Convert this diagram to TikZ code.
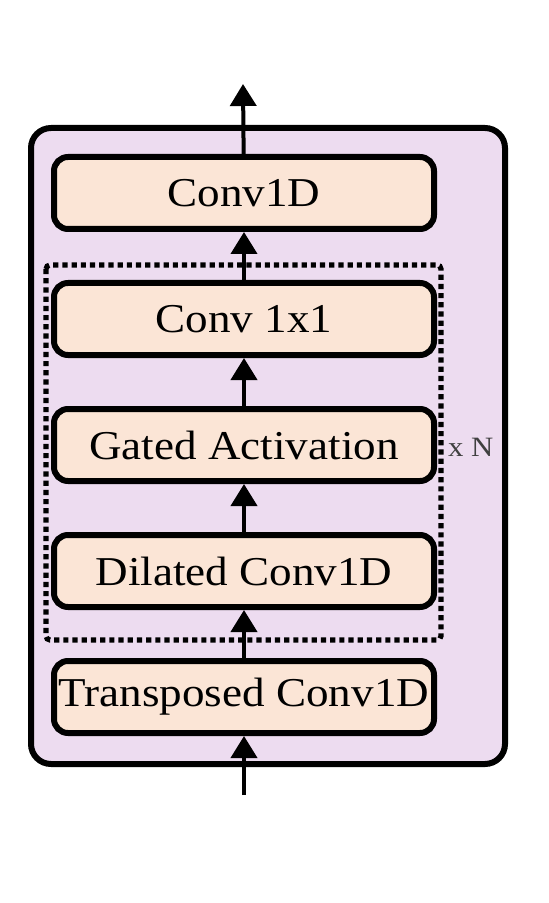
\documentclass[tikz,border=0pt]{standalone}
\usepackage{fontspec}
\setmainfont{Liberation Serif}[FakeStretch=1.1]
\usepackage{xcolor}
\usepackage{tikz}
\usetikzlibrary{positioning}
\usetikzlibrary{arrows.meta}
\definecolor{lavender}{HTML}{EDDCF0}
\definecolor{peach}{HTML}{FBE5D6}
\tikzset{	node distance=63pt,
	layer/.style={
		draw, line width=3pt,
		fill=peach,
		rounded corners=7pt,
		inner xsep=1pt,
		minimum width=190pt,
		minimum height=36pt,
		font=\fontsize{20.5}{24}\selectfont},
	flow/.style={
		draw,
		line width=2pt,
		-{Triangle[width=13pt,length=11pt]}}
}
\begin{document}
\begin{tikzpicture}[x=0.5pt,y=-0.5pt]
				\useasboundingbox (0,0) rectangle (548,903);
				\draw[line width=3pt, fill=lavender, rounded corners=10pt] (31,128) rectangle (505,764);
				\node[layer] (trans) at (244,697) {Transposed Conv1D};
				\node[layer, above of=trans] (dil) {Dilated Conv1D};
				\node[layer, above of=dil] (gate) {Gated Activation};
				\node[layer, above of=gate] (c11) {Conv 1x1};
				\node[layer, above of=c11] (conv) {Conv1D};
				\draw[line width=2.6pt, dash pattern=on 2.6pt off 2pt, rounded corners=2pt] (46,265) rectangle (441,640);
				\node[anchor=west, text=black!75, font=\fontsize{14}{16}\selectfont] (rep) at (441,447) {x N};
				\coordinate (in) at (244,795);
				\coordinate (out) at (243,84);
				\draw[flow] (in) -- (trans);
				\draw[flow] (trans) -- (dil);
				\draw[flow] (dil) -- (gate);
				\draw[flow] (gate) -- (c11);
				\draw[flow] (c11) -- (conv);
				\draw[flow] (conv) -- (out);
			\end{tikzpicture}
\end{document}
